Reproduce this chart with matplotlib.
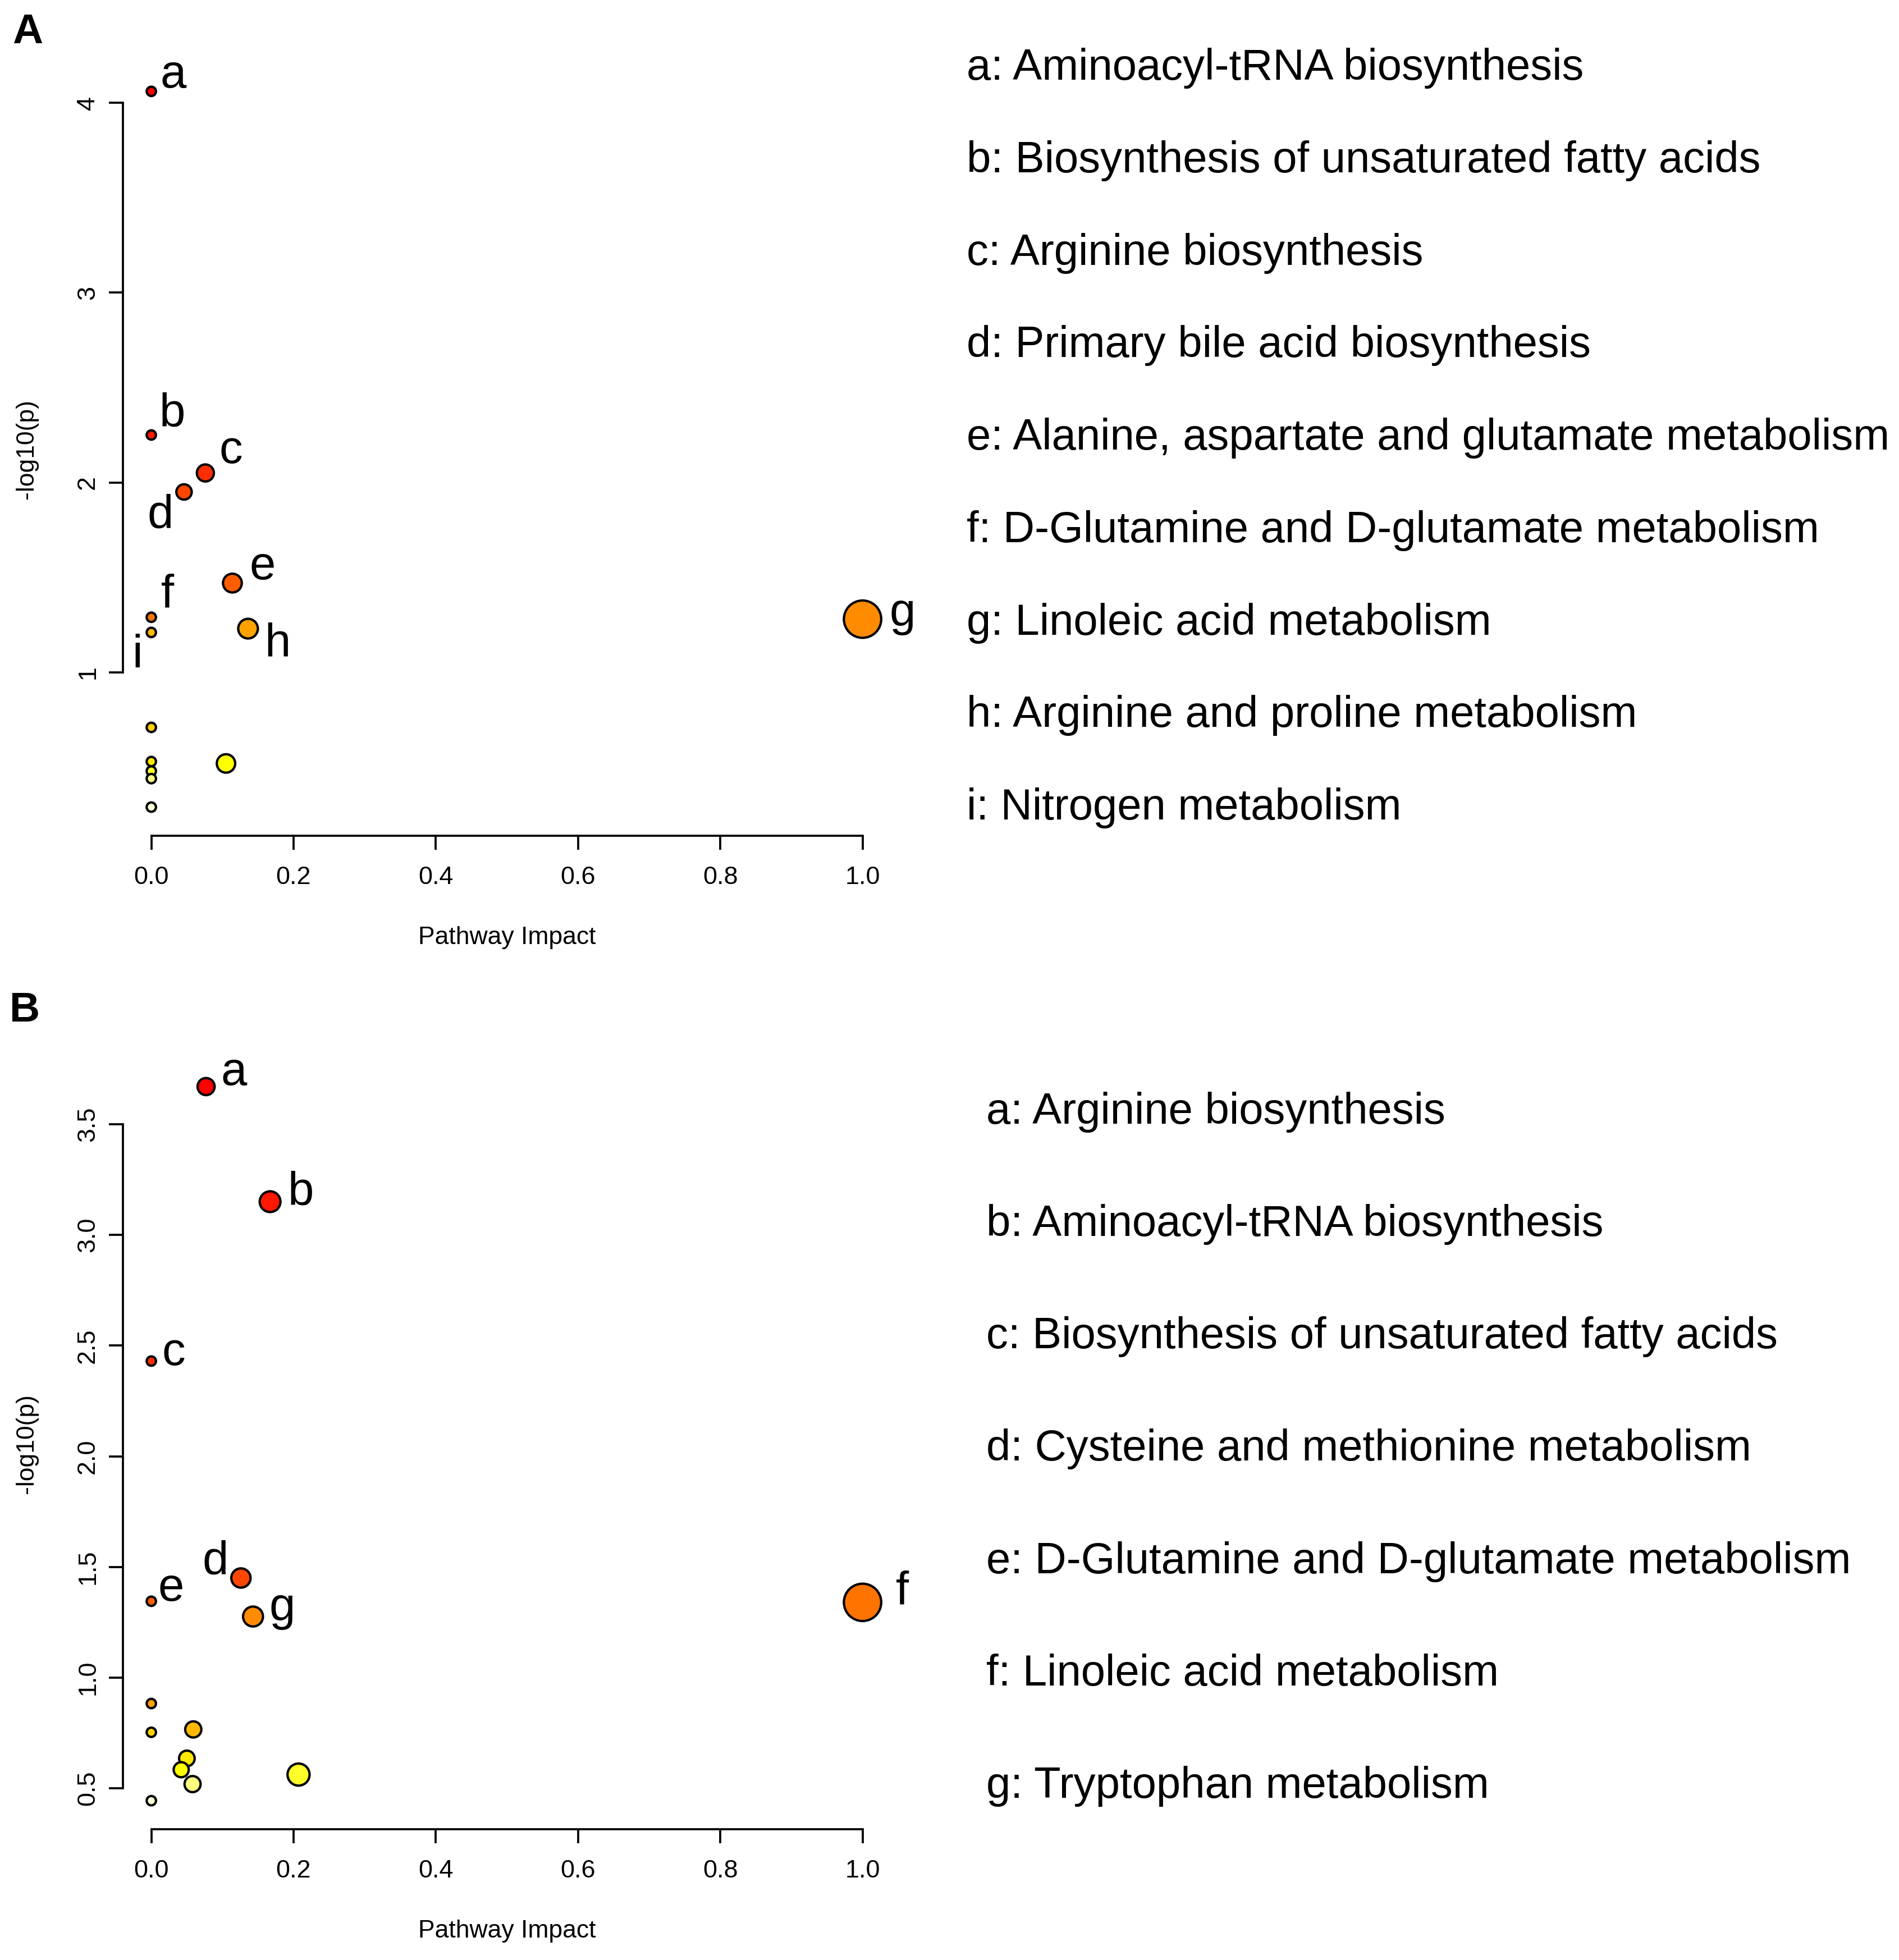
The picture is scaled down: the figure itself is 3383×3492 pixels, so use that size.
import colorsys
import numpy as np
import matplotlib
matplotlib.use("Agg")
import matplotlib.pyplot as plt

plt.rcParams['font.family'] = ['Liberation Sans', 'DejaVu Sans']

# ---- panel A data ----
impact_a = [0.0, 0.0, 0.076, 0.046, 0.114, 0.0, 1.0, 0.136, 0.0,
            0.0, 0.0, 0.105, 0.0, 0.0, 0.0]
logp_a = [4.06, 2.25, 2.05, 1.95, 1.47, 1.29, 1.28, 1.23, 1.21,
          0.71, 0.53, 0.52, 0.48, 0.44, 0.29]
tags_a = ['a', 'b', 'c', 'd', 'e', 'f', 'g', 'h', 'i']
names_a = ['Aminoacyl-tRNA biosynthesis',
           'Biosynthesis of unsaturated fatty acids',
           'Arginine biosynthesis',
           'Primary bile acid biosynthesis',
           'Alanine, aspartate and glutamate metabolism',
           'D-Glutamine and D-glutamate metabolism',
           'Linoleic acid metabolism',
           'Arginine and proline metabolism',
           'Nitrogen metabolism']

# ---- panel B data ----
impact_b = [0.077, 0.167, 0.0, 0.126, 0.0, 1.0, 0.143,
            0.0, 0.059, 0.0, 0.050, 0.042, 0.207, 0.058, 0.0]
logp_b = [3.67, 3.15, 2.43, 1.45, 1.345, 1.34, 1.276,
          0.883, 0.766, 0.753, 0.635, 0.584, 0.562, 0.519, 0.444]
tags_b = ['a', 'b', 'c', 'd', 'e', 'f', 'g']
names_b = ['Arginine biosynthesis',
           'Aminoacyl-tRNA biosynthesis',
           'Biosynthesis of unsaturated fatty acids',
           'Cysteine and methionine metabolism',
           'D-Glutamine and D-glutamate metabolism',
           'Linoleic acid metabolism',
           'Tryptophan metabolism']

# label placement (offset points) for the tagged circles
offs_a = [(9.5, 7), (9, 9), (11, 9.5), (-10, -10), (13, 7),
          (7, 9.5), (17, 2.5), (12.5, -6.5), (-6, -10)]
offs_b = [(12, 6), (13, 4), (9.5, 3.5), (-11, 7), (8.5, 5.5),
          (17, 4.5), (12.5, 3.5)]


def heat_colors(n):
    # same as R's heat.colors(n)
    j = n // 4
    i = n - j
    cols = []
    for h in np.linspace(0, 1 / 6, i):
        cols.append(colorsys.hsv_to_rgb(h, 1, 1))
    if j > 0:
        for s in np.linspace(1 - 1 / (2 * j), 1 / (2 * j), j):
            cols.append(colorsys.hsv_to_rgb(1 / 6, s, 1))
    return cols


def impact_plot(ax, x, y, tags, offs, yticks):
    x = np.array(x)
    y = np.array(y)
    order = np.argsort(-y, kind='stable')
    x, y = x[order], y[order]
    cols = heat_colors(len(y))

    xr = x.max() - x.min()
    yr = y.max() - y.min()
    xlim = (x.min() - 0.04 * xr, x.max() + 0.04 * xr)
    ylim = (y.min() - 0.04 * yr, y.max() + 0.04 * yr)
    ax.set_xlim(xlim)
    ax.set_ylim(ylim)

    # circle radius in x units, like MetaboAnalyst
    sq = np.sqrt(x)
    maxR = (sq.max() - sq.min()) / 40
    minR = (sq.max() - sq.min()) / 160
    rad = minR + (maxR - minR) * (sq - sq.min()) / (sq.max() - sq.min())
    w_in = ax.get_position().width * ax.figure.get_figwidth()
    pt_per_x = w_in * 72 / (xlim[1] - xlim[0])
    sizes = (2 * 1.05 * rad * pt_per_x) ** 2

    ax.scatter(x, y, s=sizes, c=cols, edgecolors='black',
               linewidths=1.0, zorder=3, clip_on=False)

    for k, t in enumerate(tags):
        ax.annotate(t, (x[k], y[k]), xytext=offs[k], textcoords='offset points',
                    ha='center', va='center', fontsize=20)

    for s in ['top', 'right']:
        ax.spines[s].set_visible(False)
    ax.spines['left'].set_bounds(yticks[0], yticks[-1])
    ax.spines['bottom'].set_bounds(0, 1)
    for s in ['left', 'bottom']:
        ax.spines[s].set_linewidth(0.9)
    ax.set_xticks(np.arange(0, 1.01, 0.2))
    ax.set_xticklabels(['%.1f' % v for v in np.arange(0, 1.01, 0.2)])
    ax.set_yticks(yticks)
    ax.tick_params(length=6, width=0.9, labelsize=10.8)
    ax.tick_params(axis='x', pad=7)
    ax.tick_params(axis='y', pad=4)
    ax.set_xlabel('Pathway Impact', fontsize=10.7)
    ax.set_ylabel('-log10(p)', fontsize=10.7)
    ax.xaxis.set_label_coords(0.5, -0.117)
    ax.yaxis.set_label_coords(-0.11, 0.5)


fig = plt.figure(figsize=(3383 / 300, 3492 / 300), dpi=300)

axA = fig.add_axes([0.0647, 0.5736, 0.4045, 0.3944])
impact_plot(axA, impact_a, logp_a, tags_a, offs_a, [1, 2, 3, 4])
axA.set_yticklabels(['1', '2', '3', '4'])

axB = fig.add_axes([0.0647, 0.0667, 0.4045, 0.3935])
ticks_b = [0.5, 1.0, 1.5, 2.0, 2.5, 3.0, 3.5]
impact_plot(axB, impact_b, logp_b, tags_b, offs_b, ticks_b)
axB.set_yticklabels(['%.1f' % v for v in ticks_b])
for ax in (axA, axB):
    for lab in ax.get_yticklabels():
        lab.set_rotation(90)
        lab.set_va('center')

# legend text on the right
ya = np.linspace(1 - 55 / 1579, 1 - 651 / 1579, len(names_a))
for t, n, yy in zip(tags_a, names_a, ya):
    fig.text(0.509, yy, t + ': ' + n, fontsize=18.7, va='center', ha='left')
yb = np.linspace(1 - 896 / 1579, 1 - 1439 / 1579, len(names_b))
for t, n, yy in zip(tags_b, names_b, yb):
    fig.text(0.5195, yy, t + ': ' + n, fontsize=18.7, va='center', ha='left')

fig.text(0.0144, 0.9835, 'A', fontsize=18, fontweight='bold', va='center', ha='center')
fig.text(0.013, 0.4845, 'B', fontsize=18, fontweight='bold', va='center', ha='center')

fig.savefig('out.png', dpi=300)
